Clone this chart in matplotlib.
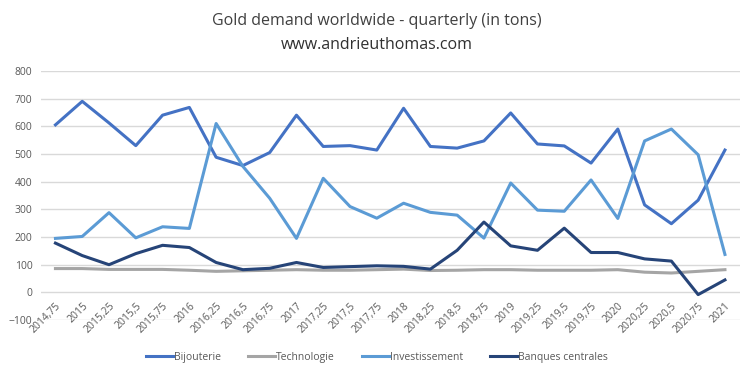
import matplotlib.pyplot as plt

plt.rcParams['font.family'] = ['Open Sans', 'DejaVu Sans']

# Trimestres (format décimal, virgule française)
trimestres = ['2014,75', '2015', '2015,25', '2015,5', '2015,75', '2016', '2016,25',
              '2016,5', '2016,75', '2017', '2017,25', '2017,5', '2017,75', '2018',
              '2018,25', '2018,5', '2018,75', '2019', '2019,25', '2019,5', '2019,75',
              '2020', '2020,25', '2020,5', '2020,75', '2021']

bijouterie = [605, 690, 612, 530, 640, 668, 488, 458, 505, 640, 527, 530, 514,
              665, 527, 521, 547, 648, 536, 529, 467, 590, 316, 248, 333, 514]
technologie = [86, 86, 83, 83, 83, 80, 76, 78, 80, 82, 80, 80, 82,
               84, 79, 80, 82, 82, 80, 80, 80, 82, 73, 70, 76, 82]
investissement = [195, 202, 288, 197, 237, 231, 610, 455, 340, 195, 412, 310, 268,
                  322, 289, 279, 196, 395, 297, 293, 406, 267, 547, 590, 497, 137]
banques = [178, 133, 100, 140, 170, 162, 108, 82, 87, 108, 90, 93, 96,
           94, 84, 152, 254, 168, 152, 232, 144, 144, 121, 113, -8, 45]

fig = plt.figure(figsize=(7.54, 3.77), dpi=100)
ax = fig.add_axes([0.054, 0.151, 0.927, 0.661])

# axe des catégories placé sur la ligne 0 (comme Excel)
ax.spines['bottom'].set_position(('data', 0))

x = range(len(trimestres))
ax.plot(x, bijouterie, color='#4472C4', lw=2.2, label='Bijouterie', solid_joinstyle='round')
ax.plot(x, technologie, color='#A5A5A5', lw=2.2, label='Technologie', solid_joinstyle='round')
ax.plot(x, investissement, color='#5B9BD5', lw=2.2, label='Investissement', solid_joinstyle='round')
ax.plot(x, banques, color='#264478', lw=2.2, label='Banques centrales', solid_joinstyle='round')

ax.set_ylim(-100, 800)
ax.set_yticks(range(-100, 801, 100))
ax.set_xlim(-0.55, len(trimestres) - 0.45)
ax.set_xticks(list(x))
ax.set_xticklabels(trimestres, rotation=45, ha='right', rotation_mode='anchor')
ax.grid(axis='y', color='#D9D9D9', lw=1)
ax.set_axisbelow(True)
for s in ax.spines.values():
    s.set_visible(False)
ax.tick_params(length=0, labelsize=7.5, colors='#595959')
ax.tick_params(axis='x', pad=6)
ax.tick_params(axis='y', pad=6)

fig.text(0.5, 0.945, 'Gold demand worldwide - quarterly (in tons)', ha='center',
         va='center', fontsize=11.5, color='#404040')
fig.text(0.5, 0.88, 'www.andrieuthomas.com', ha='center', va='center',
         fontsize=11.5, color='#303030')

fig.legend(loc='center', bbox_to_anchor=(0.5, 0.053), ncol=4, frameon=False,
           fontsize=7.5, handlelength=2.6, columnspacing=2.6, handletextpad=0.1,
           labelcolor='#595959')

fig.savefig('out.png', dpi=100)
